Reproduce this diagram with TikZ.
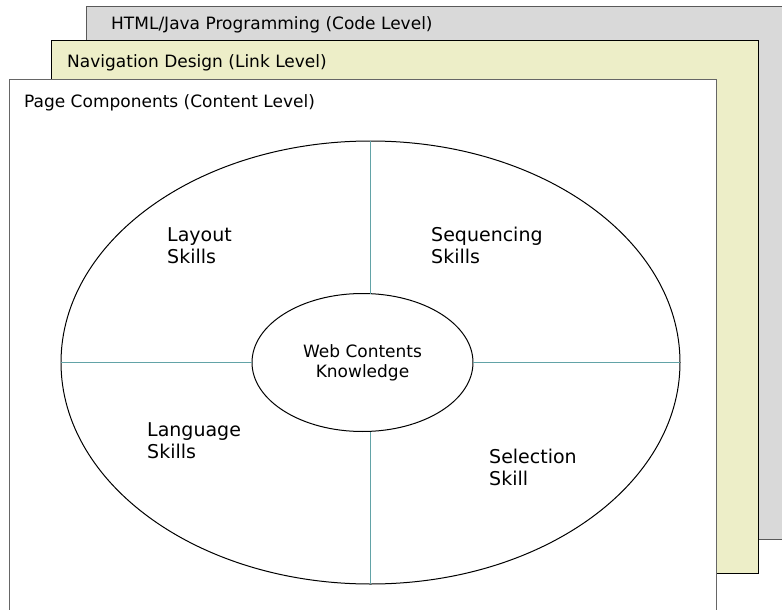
\documentclass[tikz,border=0pt]{standalone}
\usepackage{fontspec}
\setmainfont{DejaVu Sans}
\usetikzlibrary{shapes.geometric}
\definecolor{codegray}{HTML}{D9D9D9}
\definecolor{linkyellow}{HTML}{EDEEC8}
\definecolor{quadteal}{HTML}{62A3A7}

\begin{document}
\begin{tikzpicture}[x=1pt,y=-1pt,
  layer/.style={line width=1pt},
  lvltext/.style={anchor=base west,inner sep=0pt,font=\fontsize{17}{20}\selectfont},
  skill/.style={anchor=base west,inner sep=0pt,align=left,font=\fontsize{19}{21.5}\selectfont},
  divider/.style={draw=quadteal,line width=1.6pt}]
\useasboundingbox (0,0) rectangle (782,610);
% the three stacked levels
\draw[layer,fill=codegray,draw=black!65] (86,7) rectangle (800,539);
\node[lvltext] (code) at (111,30) {HTML/Java Programming (Code Level)};
\draw[layer,fill=linkyellow,draw=black] (51,41) rectangle (758,573);
\node[lvltext] (link) at (67,67) {Navigation Design (Link Level)};
\draw[layer,fill=white,draw=black!60] (9,80) rectangle (716,630);
\node[lvltext] (content) at (24,107) {Page Components (Content Level)};
% skills ellipse
\node[ellipse,draw,line width=1pt,inner sep=0pt,outer sep=0pt,
  minimum width=619pt,minimum height=443pt] (skills) at (370.5,362.5) {};
\node[ellipse,draw,line width=1pt,inner sep=0pt,outer sep=0pt,align=center,
  minimum width=221pt,minimum height=138pt,font=\fontsize{17}{20}\selectfont] (core) at (362.5,362.5) {Web Contents\\Knowledge};
\draw[divider] (skills.north) -- (skills.north |- core.north);
\draw[divider] (skills.south) -- (skills.south |- core.south);
\draw[divider] (skills.west) -- (core.west);
\draw[divider] (skills.east) -- (core.east);
% quadrant labels
\node[skill] (layout) at (167,263) {Layout\\Skills};
\node[skill] (sequencing) at (431,263) {Sequencing\\Skills};
\node[skill] (language) at (147,458) {Language\\Skills};
\node[skill] (selection) at (489,485) {Selection\\Skill};
\end{tikzpicture}
\end{document}
